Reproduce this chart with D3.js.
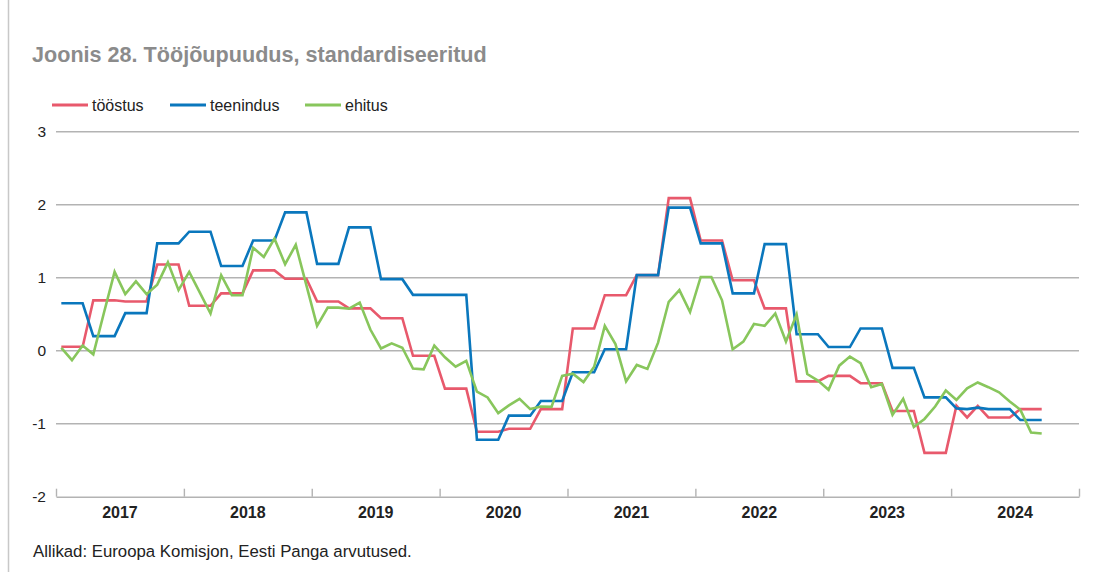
<!DOCTYPE html>
<html lang="et">
<head>
<meta charset="utf-8">
<script src="https://cdn.jsdelivr.net/npm/d3@7"></script>
<style>
  html, body { margin: 0; padding: 0; background: #fff; }
  svg { display: block; font-family: "Liberation Sans", Arial, Helvetica, sans-serif; }
</style>
</head>
<body>
<svg id="chart" width="1096" height="572"></svg>
<script>
// Aastad (x-telje sildid)
const years = ["2017", "2018", "2019", "2020", "2021", "2022", "2023", "2024"];
// y-telje jaotised
const yTicks = [3, 2, 1, 0, -1, -2];

// Igakuised väärtused alates 2017. aasta jaanuarist
const toostus = [
  0.055, 0.055, 0.055, 0.69, 0.69, 0.69, 0.675, 0.675, 0.675, 1.18, 1.18, 1.18,
  0.615, 0.615, 0.615, 0.785, 0.785, 0.785, 1.10, 1.10, 1.10, 0.985, 0.985, 0.985,
  0.675, 0.675, 0.675, 0.58, 0.58, 0.58, 0.445, 0.445, 0.445, -0.07, -0.07, -0.07,
  -0.52, -0.52, -0.52, -1.11, -1.11, -1.11, -1.07, -1.07, -1.07, -0.80, -0.80, -0.80,
  0.305, 0.305, 0.305, 0.76, 0.76, 0.76, 1.035, 1.035, 1.035, 2.09, 2.09, 2.09,
  1.51, 1.51, 1.51, 0.965, 0.965, 0.965, 0.58, 0.58, 0.58, -0.42, -0.42, -0.42,
  -0.345, -0.345, -0.345, -0.445, -0.445, -0.445, -0.825, -0.825, -0.825, -1.40, -1.40, -1.40,
  -0.755, -0.915, -0.755, -0.915, -0.915, -0.915, -0.80, -0.80, -0.80
];
const teenindus = [
  0.65, 0.65, 0.65, 0.20, 0.20, 0.20, 0.515, 0.515, 0.515, 1.47, 1.47, 1.47,
  1.63, 1.63, 1.63, 1.16, 1.16, 1.16, 1.51, 1.51, 1.51, 1.895, 1.895, 1.895,
  1.19, 1.19, 1.19, 1.69, 1.69, 1.69, 0.98, 0.98, 0.98, 0.765, 0.765, 0.765,
  0.765, 0.765, 0.765, -1.22, -1.22, -1.22, -0.89, -0.89, -0.89, -0.69, -0.69, -0.69,
  -0.295, -0.295, -0.295, 0.02, 0.02, 0.02, 1.035, 1.035, 1.035, 1.96, 1.96, 1.96,
  1.47, 1.47, 1.47, 0.785, 0.785, 0.785, 1.46, 1.46, 1.46, 0.225, 0.225, 0.225,
  0.05, 0.05, 0.05, 0.305, 0.305, 0.305, -0.235, -0.235, -0.235, -0.64, -0.64, -0.64,
  -0.79, -0.80, -0.78, -0.80, -0.80, -0.80, -0.95, -0.95, -0.95
];
const ehitus = [
  0.04, -0.13, 0.07, -0.05, 0.52, 1.08, 0.775, 0.95, 0.775, 0.905, 1.21, 0.83,
  1.08, 0.795, 0.51, 1.035, 0.76, 0.76, 1.41, 1.285, 1.535, 1.185, 1.45, 0.895,
  0.34, 0.59, 0.59, 0.575, 0.66, 0.29, 0.03, 0.10, 0.04, -0.245, -0.255, 0.07,
  -0.09, -0.22, -0.14, -0.56, -0.64, -0.855, -0.75, -0.66, -0.80, -0.765, -0.77, -0.345,
  -0.315, -0.43, -0.22, 0.34, 0.09, -0.42, -0.195, -0.25, 0.11, 0.67, 0.83, 0.53,
  1.01, 1.01, 0.69, 0.02, 0.125, 0.365, 0.34, 0.51, 0.125, 0.495, -0.32, -0.41,
  -0.535, -0.205, -0.08, -0.17, -0.50, -0.455, -0.88, -0.66, -1.045, -0.935, -0.765, -0.545,
  -0.675, -0.515, -0.435, -0.50, -0.57, -0.695, -0.81, -1.12, -1.135
];

const series = [
  { name: "tööstus",   values: toostus,   color: "#e8596c" },
  { name: "teenindus", values: teenindus, color: "#0a77bd" },
  { name: "ehitus",    values: ehitus,    color: "#88c65c" }
];

const svg = d3.select("#chart");
const gridColor = "#b3b3b3";

// Vasak piirjoon
svg.append("line")
  .attr("x1", 8.5).attr("x2", 8.5).attr("y1", 0).attr("y2", 572)
  .attr("stroke", "#c8c8c8").attr("stroke-width", 1.5);

// Pealkiri
svg.append("text")
  .attr("x", 32).attr("y", 62)
  .attr("font-size", 21.6).attr("font-weight", "bold")
  .attr("fill", "#8b8b8b")
  .text("Joonis 28. Tööjõupuudus, standardiseeritud");

// Skaalad: kuu indeks 0..96 (2017–2024)
const x = d3.scaleLinear().domain([0, years.length * 12]).range([56, 1079]);
const y = d3.scaleLinear().domain([-2, 3]).range([496.7, 131.7]);

// Horisontaalsed abijooned
svg.append("g")
  .selectAll("line")
  .data(yTicks.filter(d => d > -2))
  .join("line")
  .attr("x1", 56).attr("x2", 1079)
  .attr("y1", d => y(d)).attr("y2", d => y(d))
  .attr("stroke", gridColor).attr("stroke-width", 1.4);

// y-telje sildid
svg.append("g")
  .selectAll("text")
  .data(yTicks)
  .join("text")
  .attr("x", 46).attr("y", d => y(d) + 5.5)
  .attr("text-anchor", "end")
  .attr("font-size", 15.5).attr("fill", "#222")
  .text(d => d);

// x-telg: aastapiirid ülespoole suunatud jaotistega
const xAxis = d3.axisBottom(x)
  .tickValues(d3.range(0, years.length * 12 + 1, 12))
  .tickSize(-8)
  .tickSizeOuter(0)
  .tickFormat("");
const gx = svg.append("g")
  .attr("transform", `translate(0,${y(-2)})`)
  .call(xAxis);
gx.select(".domain").attr("stroke", gridColor).attr("stroke-width", 1.4);
gx.selectAll(".tick line").attr("stroke", gridColor).attr("stroke-width", 1.4);

// Aastate sildid aastavahemike keskel
svg.append("g")
  .selectAll("text")
  .data(years)
  .join("text")
  .attr("x", (d, i) => x(i * 12 + 6))
  .attr("y", 518)
  .attr("text-anchor", "middle")
  .attr("font-size", 16).attr("font-weight", "bold").attr("fill", "#222")
  .text(d => d);

// Jooned, punktid kuu keskel
const line = d3.line()
  .x((d, i) => x(i + 0.5))
  .y(d => y(d));

svg.append("g")
  .selectAll("path")
  .data(series)
  .join("path")
  .attr("d", d => line(d.values))
  .attr("fill", "none")
  .attr("stroke", d => d.color)
  .attr("stroke-width", 2.6)
  .attr("stroke-linejoin", "miter");

// Legend
const legendX = [52, 170, 305];
const lg = svg.append("g")
  .selectAll("g")
  .data(series)
  .join("g")
  .attr("transform", (d, i) => `translate(${legendX[i]},105)`);
lg.append("line")
  .attr("x1", 0).attr("x2", 36).attr("y1", 0).attr("y2", 0)
  .attr("stroke", d => d.color).attr("stroke-width", 3);
lg.append("text")
  .attr("x", 40).attr("y", 5.8)
  .attr("font-size", 16).attr("fill", "#222")
  .text(d => d.name);

// Allikas
svg.append("text")
  .attr("x", 33).attr("y", 557)
  .attr("font-size", 16.8).attr("fill", "#222")
  .text("Allikad: Euroopa Komisjon, Eesti Panga arvutused.");
</script>
</body>
</html>
